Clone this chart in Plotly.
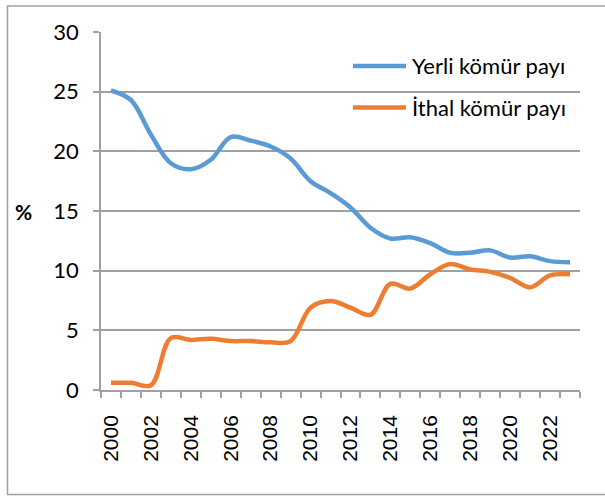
import plotly.graph_objects as go

years = list(range(2000, 2024))
yerli = [25.1, 24.3, 21.4, 19.0, 18.5, 19.3, 21.2, 20.9, 20.4, 19.4, 17.5, 16.5,
         15.3, 13.6, 12.7, 12.8, 12.3, 11.5, 11.5, 11.7, 11.1, 11.2, 10.8, 10.7]
ithal = [0.6, 0.6, 0.4, 4.35, 4.2, 4.3, 4.1, 4.1, 4.0, 4.1, 6.9, 7.45,
         6.9, 6.3, 8.9, 8.5, 9.7, 10.55, 10.1, 9.9, 9.4, 8.6, 9.6, 9.7]
series_names = ["Yerli kömür payı", "İthal kömür payı"]
colors = ["#5B9BD5", "#ED7D31"]
y_ticks = [0, 5, 10, 15, 20, 25, 30]
x_ticks = list(range(2000, 2024, 2))

# plot area geometry (px)
L, R, T, B = 101, 580, 32, 390
W, H = 605, 496
pw, ph = R - L, B - T

def px(x):
    return (x - L) / pw

def py(y):
    return (B - y) / ph

fig = go.Figure()
for name, vals, c in zip(series_names, [yerli, ithal], colors):
    fig.add_trace(go.Scatter(x=years, y=vals, name=name, mode="lines",
                             line=dict(color=c, width=4.5, shape="spline", smoothing=1),
                             showlegend=False))

border = dict(color="#A0A0A0", width=1.5)
shapes = [
    # outer border (edges)
    dict(type="line", xref="paper", yref="paper", x0=px(7), x1=px(606), y0=py(6), y1=py(6), line=border),
    dict(type="line", xref="paper", yref="paper", x0=px(7), x1=px(606), y0=py(494.5), y1=py(494.5), line=border),
    dict(type="line", xref="paper", yref="paper", x0=px(7.5), x1=px(7.5), y0=py(6), y1=py(495), line=border),
    # legend background
    dict(type="rect", xref="paper", yref="paper", x0=px(329), x1=px(581), y0=py(140), y1=py(40),
         line=dict(width=0), fillcolor="white", layer="between"),
]
annotations = []
for i, (name, c) in enumerate(zip(series_names, colors)):
    yy = 66 + i * 41.5
    shapes.append(dict(type="line", xref="paper", yref="paper", x0=px(353), x1=px(406),
                       y0=py(yy), y1=py(yy), line=dict(color=c, width=4.5), layer="above"))
    annotations.append(dict(xref="paper", yref="paper", x=px(410), y=py(yy), text=name,
                            showarrow=False, xanchor="left", yanchor="middle",
                            font=dict(family="Lato", size=22, color="#000")))
annotations.append(dict(xref="paper", yref="y", x=px(23), y=15, text="<b>%</b>", showarrow=False,
                        xanchor="center", yanchor="middle",
                        font=dict(family="Lato", size=21, color="#000")))

fig.update_layout(
    width=W, height=H,
    margin=dict(l=L, r=W - R, t=T, b=H - B, autoexpand=False),
    paper_bgcolor="white", plot_bgcolor="white",
    shapes=shapes, annotations=annotations,
    xaxis=dict(range=[1999.5, 2023.5], tickvals=x_ticks, ticktext=[str(v) for v in x_ticks],
               tickangle=-90, ticks="", showgrid=False, zeroline=False,
               showline=True, linecolor="#A0A0A0", linewidth=1.5,
               tickfont=dict(family="Liberation Sans", size=21, color="#000"),
               ticklabelstandoff=15, automargin=False,
               minor=dict(ticks="outside", ticklen=6, tickcolor="#A0A0A0", tickwidth=1.5,
                          tick0=1999.5, dtick=1, showgrid=False)),
    yaxis=dict(range=[0, 30], tickvals=y_ticks, showgrid=True, gridcolor="#A0A0A0", gridwidth=1.5,
               zeroline=False, showline=True, linecolor="#A0A0A0", linewidth=1.5,
               ticks="outside", ticklen=6, tickcolor="#A0A0A0", tickwidth=1.5,
               tickfont=dict(family="Lato", size=22, color="#000"),
               ticklabelstandoff=10, automargin=False),
)
fig.write_html("out.html", config={"displayModeBar": False},
               post_script="document.body.style.margin='0px';")
